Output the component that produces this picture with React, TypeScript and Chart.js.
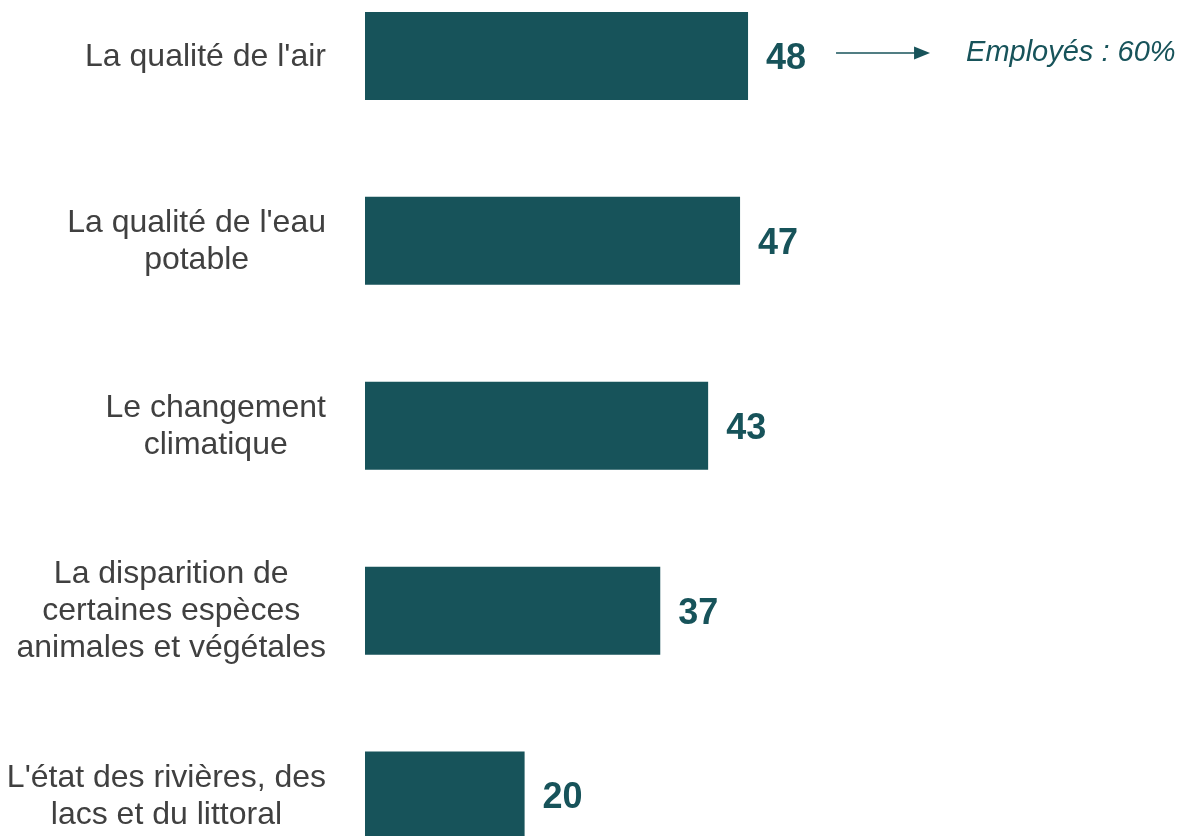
import React, { useEffect, useRef } from "react";
import { Chart, registerables } from "chart.js";

Chart.register(...registerables);

const categories: string[][] = [
  ["La qualité de l'air"],
  ["La qualité de l'eau", "potable"],
  ["Le changement", "climatique"],
  ["La disparition de", "certaines espèces", "animales et végétales"],
  ["L'état des rivières, des", "lacs et du littoral"],
];
const values: number[] = [48, 47, 43, 37, 20];
const annotationIndex = 0;
const annotationText = "Employés : 60%";

const TEAL = "#17535A";
const LABEL_COLOR = "#404040";
const FONT = "Arial, 'Liberation Sans', sans-serif";

const labelsPlugin = {
  id: "customLabels",
  afterDatasetsDraw(chart: any) {
    const ctx = chart.ctx;
    const yScale = chart.scales.y;
    const meta = chart.getDatasetMeta(0);
    ctx.save();
    // category labels (centered lines, block right-aligned)
    ctx.font = `32px ${FONT}`;
    ctx.fillStyle = LABEL_COLOR;
    ctx.textAlign = "center";
    ctx.textBaseline = "middle";
    const rightEdge = chart.chartArea.left - 39;
    const lh = 37;
    categories.forEach((lines, i) => {
      const yc = yScale.getPixelForValue(i) + 1;
      const maxW = Math.max(...lines.map((l) => ctx.measureText(l).width));
      const xc = rightEdge - maxW / 2;
      lines.forEach((line, j) => {
        ctx.fillText(line, xc, yc + (j - (lines.length - 1) / 2) * lh);
      });
    });
    // value labels
    ctx.font = `bold 36px ${FONT}`;
    ctx.fillStyle = TEAL;
    ctx.textAlign = "left";
    meta.data.forEach((bar: any, i: number) => {
      ctx.fillText(String(values[i]), bar.x + 18, bar.y + 3);
    });
    // annotation
    const b = meta.data[annotationIndex];
    if (b) {
      const ay = b.y - 3;
      const x0 = b.x + 88;
      const x1 = b.x + 182;
      ctx.strokeStyle = TEAL;
      ctx.lineWidth = 1.5;
      ctx.beginPath();
      ctx.moveTo(x0, ay);
      ctx.lineTo(x1 - 14, ay);
      ctx.stroke();
      ctx.beginPath();
      ctx.moveTo(x1, ay);
      ctx.lineTo(x1 - 16, ay - 6.5);
      ctx.lineTo(x1 - 16, ay + 6.5);
      ctx.closePath();
      ctx.fill();
      ctx.font = `italic 29px ${FONT}`;
      ctx.fillText(annotationText, b.x + 218, ay);
    }
    ctx.restore();
  },
};

export default function App() {
  const ref = useRef<HTMLCanvasElement | null>(null);
  useEffect(() => {
    if (!ref.current) return;
    const chart = new Chart(ref.current, {
      type: "bar",
      data: {
        labels: categories.map((c) => c.join(" ")),
        datasets: [
          {
            data: values,
            backgroundColor: TEAL,
            borderWidth: 0,
            barPercentage: 0.476,
            categoryPercentage: 1,
          },
        ],
      },
      options: {
        indexAxis: "y",
        animation: false,
        responsive: false,
        maintainAspectRatio: false,
        layout: { padding: { left: 365, right: 19, top: 0.5, bottom: 0 } },
        plugins: { legend: { display: false }, tooltip: { enabled: false } },
        scales: {
          x: { display: false, min: 0, max: 100 },
          y: { display: false },
        },
      },
      plugins: [labelsPlugin],
    });
    return () => chart.destroy();
  }, []);
  return (
    <div
      style={{
        position: "fixed",
        top: 0,
        left: 0,
        width: 1182,
        height: 836,
        overflow: "hidden",
        background: "#fff",
      }}
    >
      <canvas
        ref={ref}
        width={1182}
        height={925}
        style={{ position: "absolute", top: -37, left: 0, width: 1182, height: 925 }}
      />
    </div>
  );
}
